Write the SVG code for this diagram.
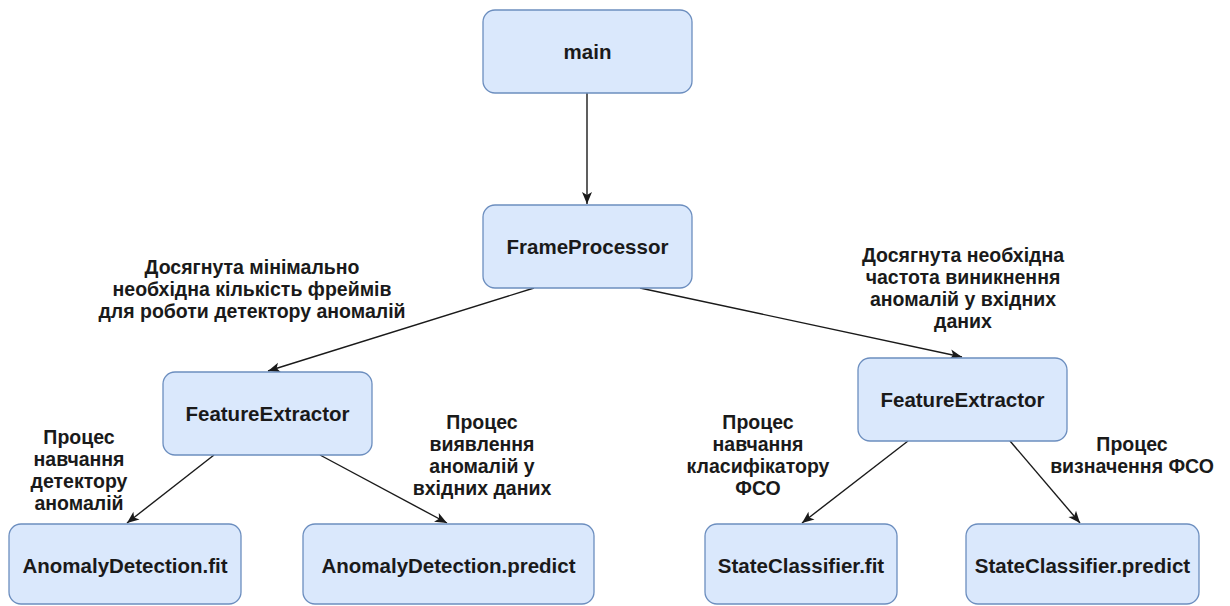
<svg xmlns="http://www.w3.org/2000/svg" width="1230" height="606" viewBox="0 0 1230 606">
<style>
.box{fill:#dae8fc;stroke:#6c8ebf;stroke-width:1.3}
.nt{font-family:"Liberation Sans",Arial,sans-serif;font-weight:bold;font-size:20.5px;fill:#1a1a1a;text-anchor:middle}
.lt{font-family:"Liberation Sans",Arial,sans-serif;font-weight:bold;font-size:19.5px;fill:#1a1a1a;text-anchor:middle}
.edge{stroke:#1a1a1a;stroke-width:1.4;fill:none;marker-end:url(#arr)}
</style>
<defs>
<marker id="arr" markerUnits="userSpaceOnUse" markerWidth="14" markerHeight="14" viewBox="0 0 14 14" refX="13" refY="7" orient="auto">
<path d="M1,2 L13,7 L1,12 L4,7 Z" fill="#1a1a1a"/>
</marker>
</defs>
<rect width="1230" height="606" fill="#ffffff"/>
<g id="connectors">
<line class="edge" x1="587" y1="93" x2="587" y2="204"/>
<line class="edge" x1="534" y1="288" x2="268" y2="371"/>
<line class="edge" x1="640" y1="288" x2="962" y2="357"/>
<line class="edge" x1="214" y1="455" x2="127" y2="523"/>
<line class="edge" x1="320" y1="455" x2="447" y2="523"/>
<line class="edge" x1="908" y1="441" x2="802" y2="523"/>
<line class="edge" x1="1010" y1="441" x2="1080" y2="523"/>
</g>
<g id="node-main">
<rect class="box" x="483" y="10" width="209" height="83" rx="12"/>
<text class="nt" x="587.5" y="58.5">main</text>
</g>
<g id="node-frameprocessor">
<rect class="box" x="483" y="205" width="209" height="83" rx="12"/>
<text class="nt" x="587.5" y="253.5">FrameProcessor</text>
</g>
<g id="node-fe-left">
<rect class="box" x="163" y="372" width="209" height="83" rx="12"/>
<text class="nt" x="267.5" y="420.5">FeatureExtractor</text>
</g>
<g id="node-fe-right">
<rect class="box" x="858" y="358" width="209" height="83" rx="12"/>
<text class="nt" x="962.5" y="406.5">FeatureExtractor</text>
</g>
<g id="node-ad-fit">
<rect class="box" x="9" y="524" width="232" height="80" rx="12"/>
<text class="nt" x="125" y="572.5">AnomalyDetection.fit</text>
</g>
<g id="node-ad-predict">
<rect class="box" x="303" y="524" width="291" height="80" rx="12"/>
<text class="nt" x="448.5" y="572.5">AnomalyDetection.predict</text>
</g>
<g id="node-sc-fit">
<rect class="box" x="705" y="524" width="192" height="80" rx="12"/>
<text class="nt" x="801" y="572.5">StateClassifier.fit</text>
</g>
<g id="node-sc-predict">
<rect class="box" x="966" y="524" width="233" height="80" rx="12"/>
<text class="nt" x="1082.5" y="572.5">StateClassifier.predict</text>
</g>
<g id="labels">
<text class="lt" x="252" y="274">Досягнута мінімально</text>
<text class="lt" x="252" y="296">необхідна кількість фреймів</text>
<text class="lt" x="252" y="318">для роботи детектору аномалій</text>
<text class="lt" x="963" y="262">Досягнута необхідна</text>
<text class="lt" x="963" y="284">частота виникнення</text>
<text class="lt" x="963" y="306">аномалій у вхідних</text>
<text class="lt" x="963" y="328">даних</text>
<text class="lt" x="79" y="444">Процес</text>
<text class="lt" x="79" y="466">навчання</text>
<text class="lt" x="79" y="488">детектору</text>
<text class="lt" x="79" y="510">аномалій</text>
<text class="lt" x="482" y="429">Процес</text>
<text class="lt" x="482" y="451">виявлення</text>
<text class="lt" x="482" y="473">аномалій у</text>
<text class="lt" x="482" y="495">вхідних даних</text>
<text class="lt" x="758" y="429">Процес</text>
<text class="lt" x="758" y="451">навчання</text>
<text class="lt" x="758" y="473">класифікатору</text>
<text class="lt" x="758" y="495">ФСО</text>
<text class="lt" x="1132" y="451">Процес</text>
<text class="lt" x="1132" y="473">визначення ФСО</text>
</g>
</svg>
